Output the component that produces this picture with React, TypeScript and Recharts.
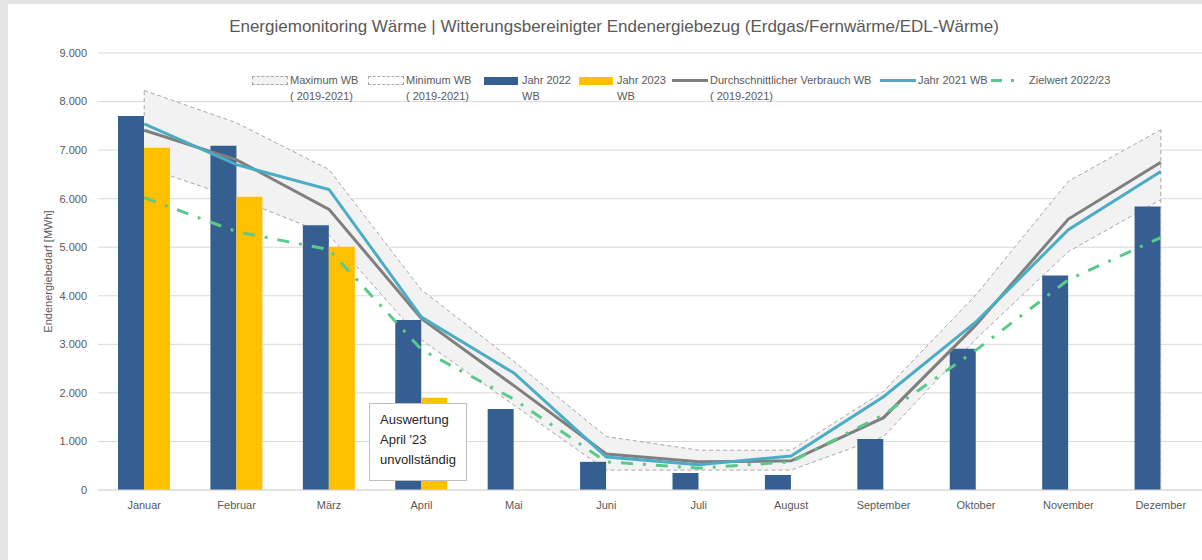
import {
	ComposedChart, Bar, Line, Area, XAxis, YAxis, CartesianGrid, ReferenceLine, Label
} from 'recharts'

const monate = ['Januar', 'Februar', 'März', 'April', 'Mai', 'Juni', 'Juli', 'August', 'September', 'Oktober', 'November', 'Dezember']
const jahr2022 = [7700, 7090, 5450, 3500, 1670, 580, 350, 310, 1050, 2910, 4420, 5840]
const jahr2023 = [7050, 6040, 5010, 1900, null, null, null, null, null, null, null, null]
const durchschnitt = [7410, 6800, 5780, 3530, 2150, 740, 580, 600, 1490, 3400, 5580, 6750]
const jahr2021 = [7540, 6700, 6190, 3560, 2410, 680, 520, 700, 1920, 3460, 5360, 6560]
const maximumWB = [8230, 7560, 6600, 4120, 2650, 1100, 820, 820, 2030, 4020, 6360, 7420]
const minimumWB = [6650, 6010, 5250, 3090, 1750, 410, 410, 410, 1100, 3110, 4910, 5980]
const zielwert = [6020, 5320, 4950, 2890, 1870, 580, 450, 580, 1550, 2880, 4330, 5200]
const yTicks = [0, 1000, 2000, 3000, 4000, 5000, 6000, 7000, 8000, 9000]

const FONT = '"Liberation Sans", Arial, sans-serif'
const TXT = '#595959'

const daten = monate.map((m, i) => ({
	monat: m,
	j2022: jahr2022[i],
	j2023: jahr2023[i],
	avg: durchschnitt[i],
	j2021: jahr2021[i],
	band: [minimumWB[i], maximumWB[i]],
	ziel: zielwert[i],
}))

const fmt = (v: number) => String(v).replace(/\B(?=(\d{3})+(?!\d))/g, '.')

function LegendItem({ x, icon, lines }: { x: number; icon: React.ReactNode; lines: string[] }) {
	return (
		<div style={{ position: 'absolute', left: x, top: 73, display: 'flex', alignItems: 'flex-start' }}>
			<div style={{ width: 38, height: 15, display: 'flex', alignItems: 'center' }}>{icon}</div>
			<div style={{ fontSize: 11, lineHeight: '16px', color: TXT, marginTop: -1, whiteSpace: 'nowrap' }}>
				{lines.map((l, i) => <div key={i}>{l}</div>)}
			</div>
		</div>
	)
}

export default function App() {
	return (
		<div style={{ position: 'fixed', left: 0, top: 0, width: 1202, height: 560, overflow: 'hidden', background: '#e4e4e4', fontFamily: FONT }}>
			<div style={{ position: 'absolute', left: 8, top: 4, width: 1220, height: 560, background: '#fff' }} />
			<div style={{ position: 'absolute', left: 0, top: 0 }}>
				<ComposedChart
					width={1212}
					height={560}
					data={daten}
					margin={{ top: 53, right: 5, bottom: 40, left: 38 }}
					barGap={0}
				>
					<CartesianGrid vertical={false} stroke="#d9d9d9" />
					<XAxis
						dataKey="monat"
						height={30}
						tickLine={false}
						axisLine={{ stroke: '#d9d9d9' }}
						tickMargin={5}
						tick={{ fill: TXT, fontSize: 11, fontFamily: FONT }}
						interval={0}
					/>
					<YAxis
						width={60}
						domain={[0, 9000]}
						ticks={yTicks}
						tickFormatter={fmt}
						axisLine={false}
						tickLine={false}
						tickMargin={5}
						tick={{ fill: TXT, fontSize: 11, fontFamily: FONT }}
					>
						<Label value="Endenergiebedarf [MWh]" angle={-90} position="insideLeft" offset={10}
							style={{ fill: TXT, fontSize: 11, fontFamily: FONT, textAnchor: 'middle' }} />
					</YAxis>
					<Area dataKey="band" type="linear" fill="#f2f2f2" fillOpacity={1} stroke="#a6a6a6"
						strokeWidth={1} strokeDasharray="4 3" isAnimationActive={false} dot={false} activeDot={false} />
					<Bar dataKey="j2022" fill="#365f91" barSize={26} isAnimationActive={false} />
					<Bar dataKey="j2023" fill="#ffc000" barSize={26} isAnimationActive={false} />
					<ReferenceLine segment={[{ x: 'Dezember', y: 0 }, { x: 'Dezember', y: maximumWB[11] }]}
						stroke="#a6a6a6" strokeDasharray="4 3" />
					<ReferenceLine segment={[{ x: 'Januar', y: jahr2022[0] }, { x: 'Januar', y: maximumWB[0] }]}
						stroke="#a6a6a6" strokeDasharray="4 3" />
					<Line dataKey="avg" type="linear" stroke="#7f7f7f" strokeWidth={3} dot={false} isAnimationActive={false} />
					<Line dataKey="j2021" type="linear" stroke="#4bacc6" strokeWidth={3} dot={false} isAnimationActive={false} />
					<Line dataKey="ziel" type="linear" stroke="#5bc98a" strokeWidth={3} strokeDasharray="12 10 3 10"
						dot={false} isAnimationActive={false} />
				</ComposedChart>
			</div>

			<div style={{ position: 'absolute', left: 0, top: 17, width: 1228, textAlign: 'center', fontSize: 17, color: TXT, whiteSpace: 'nowrap' }}>
				Energiemonitoring Wärme | Witterungsbereinigter Endenergiebezug (Erdgas/Fernwärme/EDL-Wärme)
			</div>

			<LegendItem x={252} lines={['Maximum WB', '( 2019-2021)']}
				icon={<div style={{ width: 34, height: 7, background: '#f2f2f2', border: '1px dashed #a6a6a6' }} />} />
			<LegendItem x={368} lines={['Minimum WB', '( 2019-2021)']}
				icon={<div style={{ width: 34, height: 7, background: '#fff', border: '1px dashed #a6a6a6' }} />} />
			<LegendItem x={484} lines={['Jahr 2022', 'WB']}
				icon={<div style={{ width: 34, height: 8, background: '#365f91' }} />} />
			<LegendItem x={579} lines={['Jahr 2023', 'WB']}
				icon={<div style={{ width: 34, height: 8, background: '#ffc000' }} />} />
			<LegendItem x={672} lines={['Durchschnittlicher Verbrauch WB', '( 2019-2021)']}
				icon={<div style={{ width: 36, height: 3, background: '#7f7f7f' }} />} />
			<LegendItem x={880} lines={['Jahr 2021 WB']}
				icon={<div style={{ width: 36, height: 3, background: '#4bacc6' }} />} />
			<LegendItem x={991} lines={['Zielwert 2022/23']}
				icon={<div style={{ display: 'flex', alignItems: 'center', width: 36 }}>
					<div style={{ width: 11, height: 3, background: '#5bc98a' }} />
					<div style={{ width: 3, height: 3, background: '#5bc98a', marginLeft: 9 }} />
				</div>} />

			<div style={{
				position: 'absolute', left: 369, top: 403, width: 98, height: 78, boxSizing: 'border-box',
				background: '#fff', border: '1px solid #bfbfbf', padding: '6px 0 0 10px',
				fontSize: 13, lineHeight: '20px', color: '#262626'
			}}>
				<div>Auswertung</div>
				<div>April '23</div>
				<div>unvollständig</div>
			</div>
		</div>
	)
}
